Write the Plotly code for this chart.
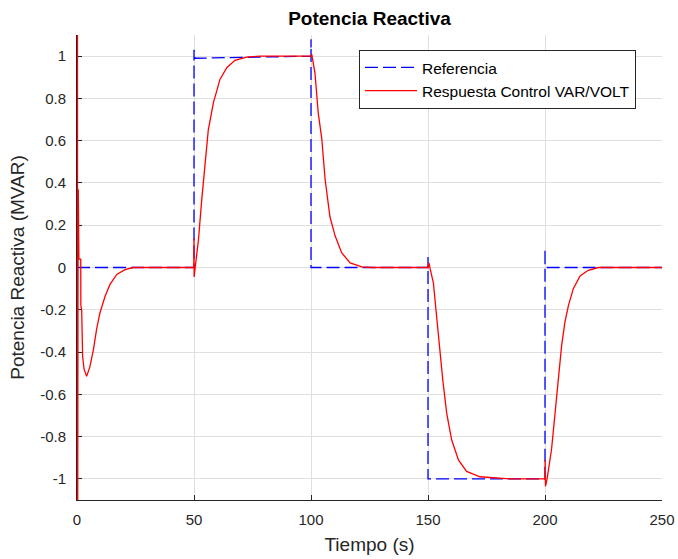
import plotly.graph_objects as go

# Reference set-point (MVAR) with the switching spikes at each step
ref_t = [0, 50, 50, 50.4, 100, 100, 100, 150, 150, 150, 200, 200, 200, 250]
ref_q = [0, 0, 1.03, 0.99, 1.0, 1.08, 0, 0, 0.05, -1.0, -1.0, 0.09, 0, 0]

# Measured reactive-power response of the VAR/VOLT controller
resp_t = [0.2, 0.25, 0.35, 0.45, 0.55, 0.65, 0.8, 1.6, 1.65, 2.0, 2.1, 2.4, 3.0, 4.1, 5.5, 7.0,
          8.4, 9.8, 12.0, 14.1, 17.0, 20.5, 24.0,
          49.9, 50.0, 50.05, 50.4, 51.9, 53.3, 54.7, 56.1, 58.3, 61.1, 64.0, 67.5, 72.5, 78,
          100.0, 100.3, 101.7, 103.1, 104.6, 106.0, 108.1, 110.3, 113.1, 116.7, 121.7, 126,
          150.0, 150.4, 151.0, 152.3, 153.4, 154.8, 156.3, 158.0, 160.1, 163.0, 166.5, 172.2,
          179.4, 185,
          200.0, 200.05, 200.2, 200.9, 202.8, 204.3, 205.7, 207.1, 208.5, 210.0, 212.1, 215.0,
          218.5, 222.8, 250]
resp_q = [1.6, -1.6, 0.37, 0.04, 0.37, 0.04, 0.04, 0.04, -0.18, -0.2, -0.33, -0.42, -0.48,
          -0.515, -0.47, -0.39, -0.29, -0.215, -0.136, -0.08, -0.033, -0.01, 0.0,
          0.0, 0.14, -0.045, -0.01, 0.13, 0.32, 0.50, 0.65, 0.78, 0.89, 0.945, 0.98, 0.995, 1.0,
          1.0, 1.01, 0.92, 0.73, 0.61, 0.42, 0.24, 0.15, 0.07, 0.022, 0.003, 0.0,
          0.0, 0.022, -0.01, -0.073, -0.2, -0.37, -0.53, -0.69, -0.815, -0.91, -0.965, -0.99,
          -0.995, -1.0,
          -1.0, -0.91, -1.035, -1.0, -0.86, -0.69, -0.53, -0.37, -0.26, -0.18, -0.10, -0.04,
          -0.013, 0.0, 0.0]

x_ticks = [0, 50, 100, 150, 200, 250]
x_tick_text = ["0", "50", "100", "150", "200", "250"]
y_ticks = [-1, -0.8, -0.6, -0.4, -0.2, 0, 0.2, 0.4, 0.6, 0.8, 1]
y_tick_text = ["-1", "-0.8", "-0.6", "-0.4", "-0.2", "0", "0.2", "0.4", "0.6", "0.8", "1"]

FONT = "Liberation Sans, Arial, Helvetica, sans-serif"
INK = "#262626"
GRID = "#dfdfdf"

fig = go.Figure()
fig.add_trace(go.Scatter(
    x=ref_t, y=ref_q, mode="lines", name="Referencia",
    line=dict(color="#0000ff", width=1.3, dash="13px,5px"),
))
fig.add_trace(go.Scatter(
    x=resp_t, y=resp_q, mode="lines", name="Respuesta Control VAR/VOLT",
    line=dict(color="#ff0000", width=1.3),
))

axis_common = dict(
    showgrid=True, gridcolor=GRID, gridwidth=1,
    showline=True, linecolor=INK, linewidth=1, mirror=False,
    ticks="inside", ticklen=5, tickcolor=INK, tickwidth=1,
    zeroline=False, layer="below traces",
    tickfont=dict(family=FONT, size=15, color=INK),
)

fig.update_xaxes(
    range=[0, 250], tickvals=x_ticks, ticktext=x_tick_text,
    title=dict(text="Tiempo (s)", font=dict(family=FONT, size=19, color=INK), standoff=10),
    ticklabelstandoff=6,
    **axis_common,
)
fig.update_yaxes(
    range=[-1.1, 1.1], tickvals=y_ticks, ticktext=y_tick_text,
    title=dict(text="Potencia Reactiva (MVAR)", font=dict(family=FONT, size=19, color=INK),
               standoff=10),
    ticklabelstandoff=7,
    **axis_common,
)

fig.update_layout(
    width=678, height=559,
    margin=dict(l=77, r=16, t=35, b=59, autoexpand=False),
    paper_bgcolor="white", plot_bgcolor="white",
    title=dict(text="<b>Potencia Reactiva</b>", x=0.545, xanchor="center",
               y=0.968, yanchor="middle",
               font=dict(family=FONT, size=19, color="#000000")),
    showlegend=True,
    legend=dict(
        x=0.482, y=0.968, xanchor="left", yanchor="top",
        bgcolor="white", bordercolor=INK, borderwidth=1,
        font=dict(family=FONT, size=15.5, color="#000000"),
        itemwidth=52, tracegroupgap=0,
    ),
)

fig.write_html("out.html")
